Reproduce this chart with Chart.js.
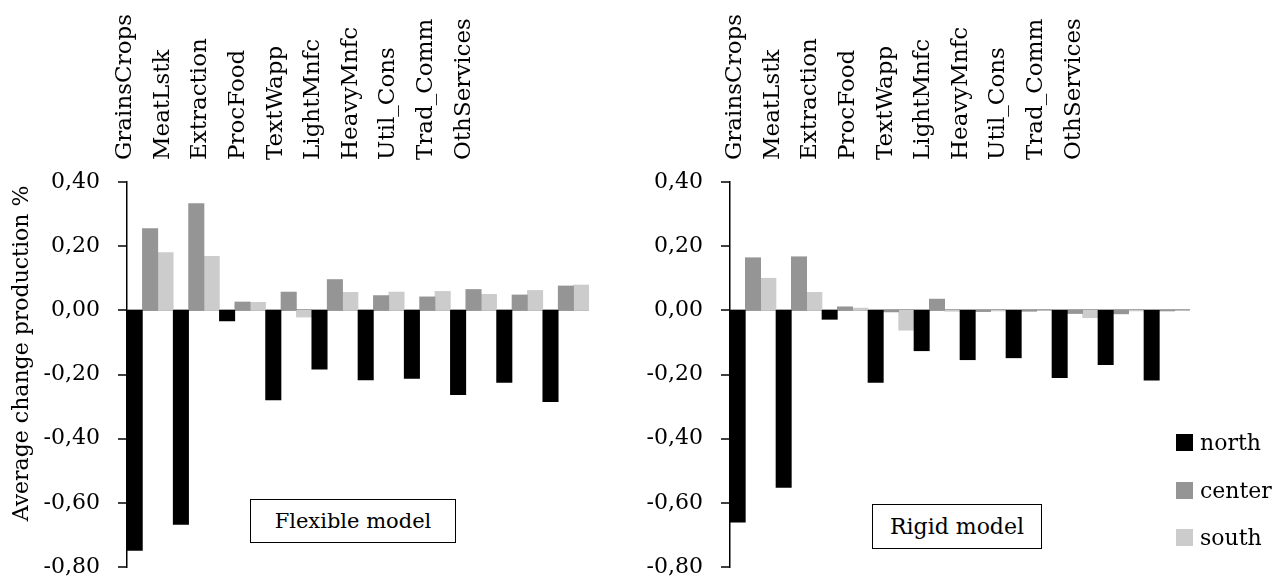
<!DOCTYPE html>
<html>
<head>
<meta charset="utf-8">
<script src="https://cdn.jsdelivr.net/npm/chart.js@4"></script>
<style>
  body { margin: 0; background: #fff; font-family: 'DejaVu Serif', serif; }
  #wrap { position: relative; width: 1279px; height: 581px; overflow: hidden; }
  canvas { position: absolute; top: 0; }
  .box { position: absolute; border: 1.5px solid #000; background: #fff; font-size: 22px;
         box-sizing: border-box; display: flex; align-items: center; justify-content: center; white-space: nowrap; }
  #legend { position: absolute; left: 1176px; top: 419px; font-size: 22px; }
  .item { display: flex; align-items: center; height: 47.5px; white-space: nowrap; }
  .sw { width: 17px; height: 17px; margin-right: 7px; }
</style>
</head>
<body>
<div id="wrap">
  <canvas id="flex" width="640" height="581" style="left:0"></canvas>
  <canvas id="rigid" width="639" height="581" style="left:640px"></canvas>
  <div class="box" style="left:250px;top:499px;width:206px;height:44px;font-size:21px">Flexible model</div>
  <div class="box" style="left:872px;top:504px;width:170px;height:45px">Rigid model</div>
  <div id="legend"></div>
</div>
<script>
const sectors = ['GrainsCrops', 'MeatLstk', 'Extraction', 'ProcFood', 'TextWapp',
                 'LightMnfc', 'HeavyMnfc', 'Util_Cons', 'Trad_Comm', 'OthServices'];
const regions = ['north', 'center', 'south'];
const regionColors = ['#000000', '#959595', '#cccccc'];

// flexible model
const flexNorth  = [-0.748, -0.667, -0.033, -0.279, -0.183, -0.217, -0.212, -0.263, -0.225, -0.285];
const flexCenter = [0.255, 0.333, 0.026, 0.057, 0.096, 0.046, 0.042, 0.065, 0.048, 0.076];
const flexSouth  = [0.180, 0.168, 0.025, -0.021, 0.056, 0.057, 0.059, 0.050, 0.062, 0.079];

// rigid model
const rigidNorth  = [-0.660, -0.552, -0.028, -0.225, -0.126, -0.154, -0.148, -0.210, -0.169, -0.218];
const rigidCenter = [0.164, 0.167, 0.011, -0.005, 0.035, -0.004, -0.003, -0.010, -0.011, -0.002];
const rigidSouth  = [0.100, 0.056, 0.007, -0.062, -0.003, -0.002, 0.000, -0.023, -0.002, 0.000];

const yMin = -0.8, yMax = 0.4, yStep = 0.2;

Chart.defaults.font.family = "'DejaVu Serif', serif";
Chart.defaults.font.size = 22;
Chart.defaults.color = '#000';

const fmt = (v) => (Math.abs(v) < 1e-9 ? 0 : v).toFixed(2).replace('.', ',');

// sector names sit on their own axis, spaced differently from the bars
const moveLabels = {
  id: 'moveLabels',
  afterLayout(chart, args, opts) {
    const s = chart.scales.names;
    s.left = opts.from;
    s.right = opts.to;
    s.width = opts.to - opts.from;
    s.configure();
  }
};

const makeChart = (id, series, cfg) => new Chart(id, {
  type: 'bar',
  data: {
    labels: sectors,
    datasets: series.map((d, i) => ({
      label: regions[i],
      data: d,
      backgroundColor: regionColors[i],
      categoryPercentage: 1,
      barPercentage: 1,
    })),
  },
  options: {
    responsive: false,
    animation: false,
    layout: { padding: { left: 0, right: cfg.padRight, top: 0, bottom: 14 } },
    plugins: {
      legend: { display: false },
      tooltip: { enabled: false },
      moveLabels: { from: cfg.from, to: cfg.to },
    },
    scales: {
      x: { display: false },
      names: {
        type: 'category',
        labels: sectors,
        position: 'top',
        offset: true,
        grid: { display: false, drawTicks: false },
        border: { display: false },
        ticks: { minRotation: 90, maxRotation: 90, autoSkip: false, padding: 22, font: { size: 23 } },
        afterFit: (s) => { s.height = 182; },
      },
      y: {
        min: yMin,
        max: yMax,
        ticks: { stepSize: yStep, padding: 18, callback: fmt },
        grid: {
          color: (c) => Math.abs(c.tick.value) < 1e-9 ? '#a6a6a6' : 'rgba(0,0,0,0)',
          lineWidth: 2,
          tickColor: '#000',
          tickLength: 9,
          tickWidth: 1.5,
        },
        border: { color: '#000', width: 1.5 },
        title: cfg.title
          ? { display: true, text: '\u00a0\u00a0\u00a0\u00a0\u00a0\u00a0' + cfg.title, padding: { top: 9, bottom: 0 } }
          : { display: false },
        afterFit: (s) => {
          s.width = cfg.axisWidth;
          s.paddingTop = 0;
          s.paddingBottom = 0;
        },
      },
    },
  },
  plugins: [moveLabels],
});

makeChart('flex', [flexNorth, flexCenter, flexSouth],
  { axisWidth: 127, padRight: 51, from: 134, to: 510, title: 'Average change production %' });
makeChart('rigid', [rigidNorth, rigidCenter, rigidSouth],
  { axisWidth: 90, padRight: 89, from: 104, to: 480 });

const legend = document.getElementById('legend');
regions.forEach((r, i) => {
  legend.innerHTML += `<div class="item"><span class="sw" style="background:${regionColors[i]}"></span>${r}</div>`;
});
</script>
</body>
</html>
